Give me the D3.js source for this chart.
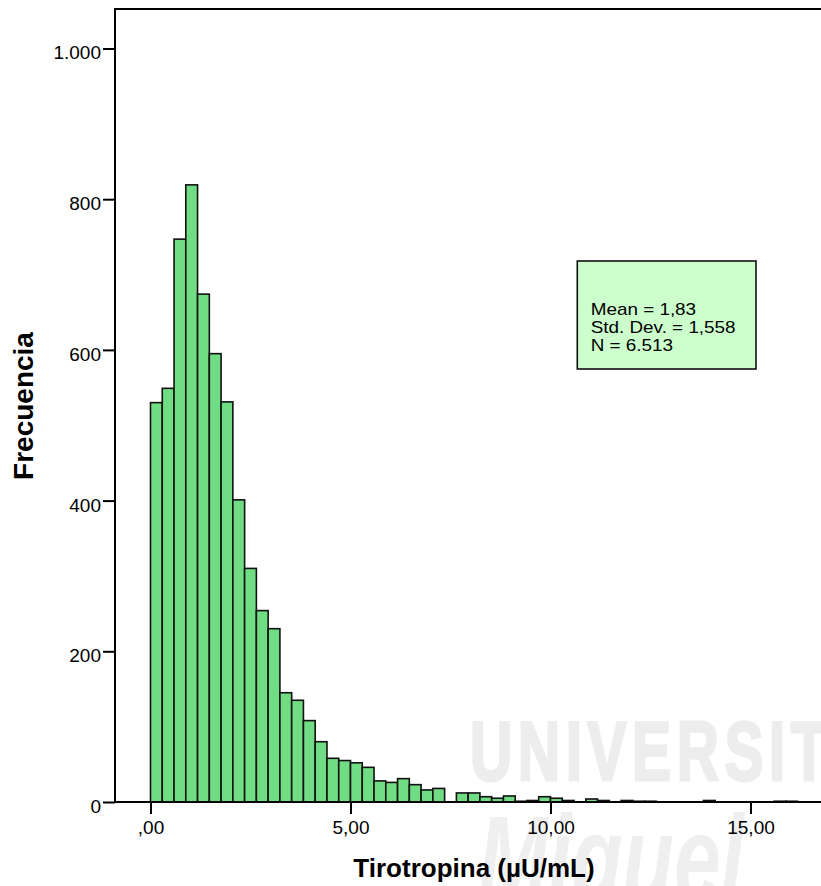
<!DOCTYPE html>
<html>
<head>
<meta charset="utf-8">
<script src="https://cdn.jsdelivr.net/npm/d3@7"></script>
<style>
  html, body { margin: 0; padding: 0; background: #fff; }
  svg { display: block; }
  text { font-family: "Liberation Sans", Arial, sans-serif; }
</style>
</head>
<body>
<svg id="chart" width="821" height="886"></svg>
<script>
// Histogram of TSH values: frequency per bin, bins of width 5/17 starting at 0
const binStart = 0;
const binWidth = 5 / 17;
const counts = [
  530, 549, 747, 819, 674, 595, 531, 401, 310, 254,
  230, 145, 135, 108, 80, 58, 55, 52, 46, 28,
  26, 31, 23, 16, 18, 0, 12, 12, 7, 5,
  8, 1, 2, 7, 5, 2, 0, 4, 2, 0,
  2, 1, 1, 0, 0, 0, 0, 2, 0, 0,
  0, 0, 0, 1, 1
];
const xTicks = [0, 5, 10, 15];
const yTicks = [0, 200, 400, 600, 800, 1000];
const statsLines = ["Mean = 1,83", "Std. Dev. = 1,558", "N = 6.513"];
const xTitle = "Tirotropina (µU/mL)";
const yTitle = "Frecuencia";
const watermarkWords = ["UNIVERSITAS", "Miguel"];

// Spanish number formatting (comma decimal, dot thousands)
const es = d3.formatLocale({ decimal: ",", thousands: ".", grouping: [3], currency: ["", " €"] });
const fmtY = es.format(",d");
const fmtX = v => es.format(".2f")(v).replace(/^0,/, ",");

const svg = d3.select("#chart");
const plot = { left: 115, right: 833, top: 9, bottom: 802 };

const x = d3.scaleLinear().domain([-0.8875, 17.0625]).range([plot.left, plot.right]);
const y = d3.scaleLinear().domain([0, 1052.4]).range([plot.bottom, plot.top]);

// faint background watermark, squeezed horizontally so the trailing letters fall past the edge
const wm = svg.append("g").attr("pointer-events", "none");
const wmG = wm.append("g");
const wmText = wmG.append("text")
  .attr("x", 0).attr("y", 0)
  .attr("font-size", 84).attr("font-weight", "bold")
  .attr("letter-spacing", 8)
  .attr("fill", "#ededed")
  .attr("stroke", "#ededed").attr("stroke-width", 3)
  .text(watermarkWords[0]);
const firstNine = wmText.node().getSubStringLength(0, 9);
wmG.attr("transform", `translate(470,780) scale(${(828 - 470) / firstNine},1)`);

wm.append("g")
  .attr("transform", "translate(478,900) scale(0.7,1)")
  .append("text")
  .attr("font-family", "'Liberation Serif', serif")
  .attr("font-size", 120).attr("font-weight", "bold").attr("font-style", "italic")
  .attr("fill", "#efefef")
  .text(watermarkWords[1]);

// bars
const bins = counts.map((c, i) => ({ x0: binStart + i * binWidth, x1: binStart + (i + 1) * binWidth, count: c }))
  .filter(d => d.count > 0);

svg.append("g")
  .selectAll("rect")
  .data(bins)
  .join("rect")
  .attr("x", d => x(d.x0))
  .attr("width", d => x(d.x1) - x(d.x0))
  .attr("y", d => y(d.count))
  .attr("height", d => y(0) - y(d.count))
  .attr("fill", "#70dc83")
  .attr("stroke", "#111")
  .attr("stroke-width", 1.6);

// plot frame
svg.append("rect")
  .attr("x", plot.left).attr("y", plot.top)
  .attr("width", plot.right - plot.left).attr("height", plot.bottom - plot.top)
  .attr("fill", "none").attr("stroke", "#000").attr("stroke-width", 2);

// y axis
const yAxis = d3.axisLeft(y).tickValues(yTicks).tickFormat(fmtY).tickSize(12).tickPadding(2);
const gy = svg.append("g").attr("transform", `translate(${plot.left},0)`).call(yAxis);
gy.select(".domain").remove();
gy.selectAll(".tick line").attr("stroke", "#000").attr("stroke-width", 2);
gy.selectAll(".tick text")
  .attr("font-size", 19).attr("fill", "#000")
  .attr("font-family", "'Liberation Sans', Arial, sans-serif")
  .attr("dy", null).attr("y", 10.5);

// x axis
const xAxis = d3.axisBottom(x).tickValues(xTicks).tickFormat(fmtX).tickSize(12).tickPadding(6);
const gx = svg.append("g").attr("transform", `translate(0,${plot.bottom})`).call(xAxis);
gx.select(".domain").remove();
gx.selectAll(".tick line").attr("stroke", "#000").attr("stroke-width", 2);
gx.selectAll(".tick text")
  .attr("font-size", 19).attr("fill", "#000")
  .attr("font-family", "'Liberation Sans', Arial, sans-serif")
  .attr("dy", null).attr("y", 32);

// axis titles
svg.append("text")
  .attr("x", 474).attr("y", 876.7)
  .attr("text-anchor", "middle")
  .attr("font-size", 26).attr("font-weight", "bold")
  .text(xTitle);

svg.append("text")
  .attr("transform", "translate(33,406) rotate(-90)")
  .attr("text-anchor", "middle")
  .attr("font-size", 28).attr("font-weight", "bold")
  .text(yTitle);

// statistics box
const box = { x: 577.3, y: 261, w: 178.7, h: 108 };
svg.append("rect")
  .attr("x", box.x).attr("y", box.y).attr("width", box.w).attr("height", box.h)
  .attr("fill", "#ccffcc").attr("stroke", "#111").attr("stroke-width", 1.6);

const statsG = svg.append("g").attr("transform", `translate(${box.x + 13.4},0) scale(1.18,1)`);
statsG.selectAll("text")
  .data(statsLines)
  .join("text")
  .attr("x", 0)
  .attr("y", (d, i) => 315.3 + i * 17.9)
  .attr("font-size", 16)
  .attr("fill", "#000")
  .text(d => d);
</script>
</body>
</html>
